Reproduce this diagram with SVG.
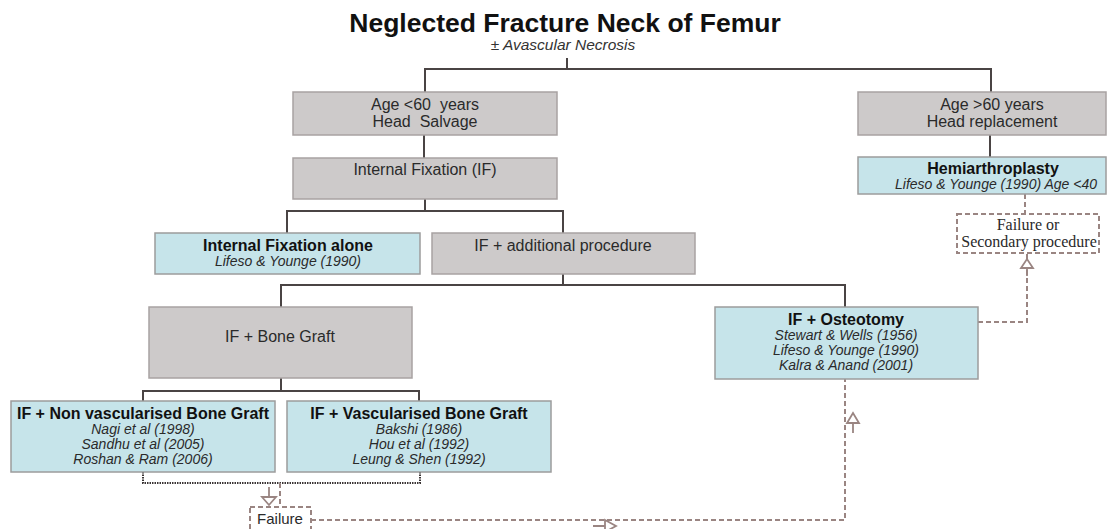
<svg xmlns="http://www.w3.org/2000/svg" width="1109" height="529" viewBox="0 0 1109 529">
<defs>
<style>
.gray{fill:#cdcaca;stroke:#a8a2a2;stroke-width:1.5}
.blue{fill:#c6e4ea;stroke:#9c9c9c;stroke-width:1.5}
.dbox{fill:#fff;stroke:#9a8582;stroke-width:2;stroke-dasharray:5 3}
.t{font-family:"Liberation Sans",Arial,sans-serif;font-size:16px;fill:#2a2a2a;text-anchor:middle}
.b{font-family:"Liberation Sans",Arial,sans-serif;font-size:16px;font-weight:bold;fill:#111;text-anchor:middle}
.i{font-family:"Liberation Sans",Arial,sans-serif;font-size:14px;font-style:italic;fill:#2a2a2a;text-anchor:middle}
.s{font-family:"Liberation Serif","Times New Roman",serif;font-size:16px;fill:#2a2a2a;text-anchor:middle}
.solid{fill:none;stroke:#4a4444;stroke-width:2}
.dash{fill:none;stroke:#9a8582;stroke-width:2;stroke-dasharray:5 3}
.dot{fill:none;stroke:#3a3434;stroke-width:2;stroke-dasharray:1.5 1}
.arr{fill:#fff;stroke:#9a8582;stroke-width:1.8}
</style>
</defs>
<rect width="1109" height="529" fill="#fff"/>
<g id="title">
<text x="565" y="32" font-family="Liberation Sans,Arial,sans-serif" font-size="26.5" font-weight="bold" fill="#111" text-anchor="middle">Neglected Fracture Neck of Femur</text>
<text x="563" y="50" font-family="Liberation Sans,Arial,sans-serif" font-size="15.5" font-style="italic" fill="#333" text-anchor="middle">± Avascular Necrosis</text>
</g>
<g id="connectors">
<path class="solid" d="M567 58V69M425 92V69H991V92"/>
<path class="solid" d="M424 135V158"/>
<path class="solid" d="M425 199V211M287 233V211H563V233"/>
<path class="solid" d="M563 274V285M281 307V285H845V307"/>
<path class="solid" d="M281 378V391M143 401V391H419V401"/>
<path class="solid" d="M990 135V157"/>
<path class="dot" d="M143 472V483H420V472"/>
<path class="dash" d="M280 483V507"/>
<path class="dash" d="M311 520H845V379"/>
<path class="dash" d="M978 322H1027V253"/>
<path class="dash" d="M1025 194V214"/>
<path class="arr" d="M269 487V497M262 497H276L269 505Z"/>
<path class="arr" d="M853 433V423M847 423H859L853 413Z"/>
<path class="arr" d="M1027 276V268M1021 268H1033L1027 259Z"/>
<path class="arr" d="M593 526H605M605 520V532L616 526Z"/>
</g>
<g id="age-lt60">
<rect class="gray" x="293" y="92" width="264" height="43"/>
<text class="t" x="425" y="110" xml:space="preserve">Age &lt;60  years</text>
<text class="t" x="425" y="127" xml:space="preserve">Head  Salvage</text>
</g>
<g id="internal-fixation">
<rect class="gray" x="293" y="158" width="264" height="41"/>
<text class="t" x="425" y="175">Internal Fixation (IF)</text>
</g>
<g id="if-alone">
<rect class="blue" x="155" y="233" width="265" height="41"/>
<text class="b" x="288" y="251">Internal Fixation alone</text>
<text class="i" x="288" y="266">Lifeso &amp; Younge (1990)</text>
</g>
<g id="if-additional">
<rect class="gray" x="432" y="233" width="263" height="41"/>
<text class="t" x="563" y="251">IF + additional procedure</text>
</g>
<g id="if-bone-graft">
<rect class="gray" x="149" y="307" width="263" height="71"/>
<text class="t" x="280" y="342">IF + Bone Graft</text>
</g>
<g id="if-nonvasc">
<rect class="blue" x="11" y="401" width="264" height="71"/>
<text class="b" x="143" y="419">IF + Non vascularised Bone Graft</text>
<text class="i" x="143" y="434">Nagi et al (1998)</text>
<text class="i" x="143" y="449">Sandhu et al (2005)</text>
<text class="i" x="143" y="464">Roshan &amp; Ram (2006)</text>
</g>
<g id="if-vasc">
<rect class="blue" x="287" y="401" width="264" height="71"/>
<text class="b" x="419" y="419">IF + Vascularised Bone Graft</text>
<text class="i" x="419" y="434">Bakshi (1986)</text>
<text class="i" x="419" y="449">Hou et al (1992)</text>
<text class="i" x="419" y="464">Leung &amp; Shen (1992)</text>
</g>
<g id="failure">
<rect class="dbox" x="250" y="507" width="61" height="30"/>
<text x="280" y="524" font-family="Liberation Sans,Arial,sans-serif" font-size="15" fill="#2a2a2a" text-anchor="middle">Failure</text>
</g>
<g id="if-osteotomy">
<rect class="blue" x="715" y="307" width="263" height="72"/>
<text class="b" x="846" y="325">IF + Osteotomy</text>
<text class="i" x="846" y="340">Stewart &amp; Wells (1956)</text>
<text class="i" x="846" y="355">Lifeso &amp; Younge (1990)</text>
<text class="i" x="846" y="370">Kalra &amp; Anand (2001)</text>
</g>
<g id="age-gt60">
<rect class="gray" x="858" y="92" width="248" height="43"/>
<text class="t" x="992" y="110">Age &gt;60 years</text>
<text class="t" x="992" y="127">Head replacement</text>
</g>
<g id="hemiarthroplasty">
<rect class="blue" x="858" y="157" width="248" height="37"/>
<text class="b" x="993" y="174">Hemiarthroplasty</text>
<text class="i" x="996" y="189">Lifeso &amp; Younge (1990) Age &lt;40</text>
</g>
<g id="failure-secondary">
<rect class="dbox" x="957" y="214" width="142" height="39"/>
<text class="s" x="1028" y="230">Failure or</text>
<text class="s" x="1029" y="247">Secondary procedure</text>
</g>
</svg>
